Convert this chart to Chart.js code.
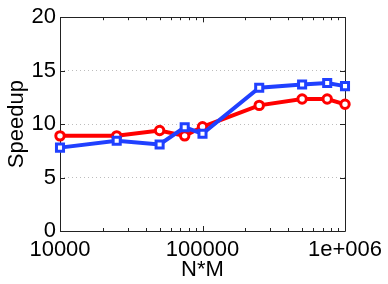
<!DOCTYPE html>
<html>
<head>
<meta charset="utf-8">
<script src="https://cdn.jsdelivr.net/npm/chart.js@4/dist/chart.umd.min.js"></script>
<style>
html,body{margin:0;padding:0;background:#fff;}
#wrap{width:388px;height:284px;}
</style>
</head>
<body>
<div id="wrap"><canvas id="c" width="388" height="284"></canvas></div>
<script>
const xValues = [10000, 25000, 50000, 75000, 100000, 250000, 500000, 750000, 1000000];
const redSeries = [8.9, 8.9, 9.4, 8.9, 9.75, 11.75, 12.35, 12.35, 11.85];
const blueSeries = [7.8, 8.45, 8.1, 9.7, 9.1, 13.4, 13.7, 13.85, 13.55];
const xTickValues = [10000, 100000, 1000000];
const xTickLabels = ['10000', '100000', '1e+006'];
const yTickValues = [0, 5, 10, 15, 20];

const FONT = {family: '"Liberation Sans", Arial, Helvetica, sans-serif', size: 22};

const boxPlugin = {
  id: 'box',
  beforeDatasetsDraw(chart) {
    const {ctx, chartArea: a, scales} = chart;
    ctx.save();
    ctx.strokeStyle = '#222';
    ctx.lineWidth = 1;
    ctx.beginPath();
    ctx.rect(Math.round(a.left) + 0.5, Math.round(a.top) + 0.5, Math.round(a.right - a.left), Math.round(a.bottom - a.top));
    ctx.stroke();
    ctx.beginPath();
    for (let d = 1e4; d < 1e6; d *= 10) {
      for (let k = 1; k <= 10; k++) {
        const v = d * k;
        const px = Math.round(scales.x.getPixelForValue(v)) + 0.5;
        const len = (k === 1 || k === 10) ? 5 : 3;
        ctx.moveTo(px, a.bottom); ctx.lineTo(px, a.bottom - len);
        ctx.moveTo(px, a.top); ctx.lineTo(px, a.top + len);
      }
    }
    for (const v of yTickValues) {
      const py = Math.round(scales.y.getPixelForValue(v)) + 0.5;
      ctx.moveTo(a.left, py); ctx.lineTo(a.left + 5, py);
      ctx.moveTo(a.right, py); ctx.lineTo(a.right - 5, py);
    }
    ctx.stroke();
    ctx.restore();
  }
};

new Chart(document.getElementById('c'), {
  type: 'line',
  data: {
    datasets: [
      {
        label: 'red',
        data: xValues.map((x, i) => ({x, y: redSeries[i]})),
        borderColor: '#ff0000',
        backgroundColor: '#ffffff',
        borderWidth: 4,
        pointStyle: 'circle',
        pointRadius: 4.2,
        pointBorderWidth: 3,
        pointBackgroundColor: '#ffffff',
        pointBorderColor: '#ff0000',
        clip: false,
        order: 1,
        tension: 0
      },
      {
        label: 'blue',
        data: xValues.map((x, i) => ({x, y: blueSeries[i]})),
        borderColor: '#2040ff',
        backgroundColor: '#ffffff',
        borderWidth: 4,
        pointStyle: 'rect',
        pointRadius: 5,
        pointBorderWidth: 3,
        pointBackgroundColor: '#ffffff',
        pointBorderColor: '#2040ff',
        clip: false,
        order: 0,
        tension: 0
      }
    ]
  },
  options: {
    responsive: false,
    animation: false,
    layout: {padding: {left: 0, right: 43, top: 16, bottom: 0}},
    plugins: {legend: {display: false}, tooltip: {enabled: false}},
    scales: {
      x: {
        type: 'logarithmic',
        min: 10000,
        max: 1000000,
        afterBuildTicks(s) { s.ticks = xTickValues.map(v => ({value: v})); },
        afterFit(s) { s.height = 53; },
        ticks: {
          autoSkip: false, maxRotation: 0, minRotation: 0,
          color: '#000', font: FONT, padding: -2,
          callback(v) { const i = xTickValues.indexOf(v); return i >= 0 ? xTickLabels[i] : ''; }
        },
        grid: {display: false},
        border: {display: false},
        title: {display: true, text: 'N*M', color: '#000', font: FONT, padding: {top: 0, bottom: 1}}
      },
      y: {
        min: 0, max: 20,
        afterBuildTicks(s) { s.ticks = yTickValues.map(v => ({value: v})); },
        afterFit(s) { s.width = 60; },
        ticks: {color: '#000', font: FONT, padding: 4},
        grid: {color: '#bdbdbd', lineWidth: 1, drawTicks: false},
        border: {display: false, dash: [1, 3]},
        title: {display: true, text: 'Speedup', color: '#000', font: FONT, padding: {top: 4, bottom: 0}}
      }
    }
  },
  plugins: [boxPlugin]
});
</script>
</body>
</html>
